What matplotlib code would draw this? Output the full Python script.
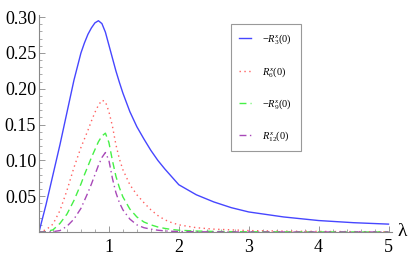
import matplotlib
matplotlib.use("Agg")
import matplotlib.pyplot as plt
from matplotlib.ticker import MultipleLocator, FixedLocator

lam = [0, 0.1, 0.2, 0.3, 0.4, 0.5, 0.6, 0.65, 0.7, 0.75, 0.8, 0.85, 0.9, 0.95,
       1.0, 1.05, 1.1, 1.15, 1.2, 1.3, 1.4, 1.5, 1.6, 1.7, 1.8, 1.9, 2.0,
       2.25, 2.5, 2.75, 3.0, 3.5, 4.0, 4.5, 5.0]

r3 = [0, 0.038, 0.080, 0.122, 0.167, 0.212, 0.250, 0.264, 0.276, 0.285, 0.292, 0.295, 0.291, 0.279,
      0.261, 0.243, 0.225, 0.209, 0.194, 0.168, 0.147, 0.130, 0.114, 0.100, 0.088, 0.077, 0.066,
      0.052, 0.042, 0.034, 0.028, 0.021, 0.016, 0.013, 0.011]

r6 = [0, 0.003, 0.011, 0.030, 0.058, 0.090, 0.118, 0.130, 0.142, 0.155, 0.167, 0.177, 0.184, 0.182,
      0.168, 0.148, 0.122, 0.102, 0.087, 0.066, 0.052, 0.041, 0.031, 0.023, 0.017, 0.013, 0.010,
      0.006, 0.004, 0.003, 0.002, 0.0012, 0.0008, 0.0005, 0.0003]

r9 = [0, 0.0005, 0.003, 0.012, 0.025, 0.044, 0.067, 0.080, 0.092, 0.104, 0.115, 0.126, 0.134, 0.138,
      0.125, 0.100, 0.078, 0.062, 0.049, 0.032, 0.021, 0.014, 0.010, 0.007, 0.005, 0.0035, 0.0025,
      0.0013, 0.0008, 0.0005, 0.0003, 0.0002, 0.0001, 0.0001, 0.0]

r12 = [0, 0.0, 0.0005, 0.002, 0.008, 0.018, 0.033, 0.044, 0.055, 0.067, 0.080, 0.093, 0.104, 0.111,
       0.100, 0.075, 0.055, 0.041, 0.031, 0.018, 0.010, 0.006, 0.004, 0.0025, 0.0015, 0.001, 0.0007,
       0.0003, 0.0002, 0.0001, 0.0, 0.0, 0.0, 0.0, 0.0]

labels = [r"$-R_3^x(0)$", r"$R_6^x(0)$", r"$-R_9^x(0)$", r"$R_{12}^x(0)$"]
xticks = [1, 2, 3, 4, 5]
yticks = [0.05, 0.10, 0.15, 0.20, 0.25, 0.30]

SERIF = "Liberation Serif"
plt.rcParams["font.family"] = SERIF
plt.rcParams["mathtext.fontset"] = "custom"
plt.rcParams["mathtext.rm"] = SERIF
plt.rcParams["mathtext.it"] = SERIF + ":italic"

fig = plt.figure(figsize=(4.15, 2.59), dpi=100)
ax = fig.add_axes([39 / 415, 27 / 259, 353 / 415, 217 / 259])

ax.plot(lam, r3, color="#4646ff", lw=1.0, label=labels[0])
ax.plot(lam, r6, color="#ff6060", lw=1.0, ls=(0, (1, 2.5)), label=labels[1])
ax.plot(lam, r9, color="#46f046", lw=1.0, ls=(0, (5, 3)), label=labels[2])
ax.plot(lam, r12, color="#a848b8", lw=1.0, ls=(0, (5, 2.5, 1, 2.5)), label=labels[3])

ax.set_xlim(0, 5.05)
ax.set_ylim(0, 0.303)
for s in ["top", "right"]:
    ax.spines[s].set_visible(False)
for s in ["left", "bottom"]:
    ax.spines[s].set_color("#888888")
    ax.spines[s].set_linewidth(0.8)

ax.xaxis.set_major_locator(FixedLocator(xticks))
ax.yaxis.set_major_locator(FixedLocator(yticks))
ax.xaxis.set_minor_locator(MultipleLocator(0.2))
ax.yaxis.set_minor_locator(MultipleLocator(0.01))
ax.set_xticklabels([str(t) for t in xticks], fontfamily=SERIF, fontsize=13)
ax.set_yticklabels(["%.2f" % t for t in yticks], fontfamily=SERIF, fontsize=13)
ax.tick_params(which="major", direction="in", length=4, width=0.6, color="#888888", pad=2)
ax.tick_params(which="minor", direction="in", length=2, width=0.5, color="#888888")
ax.tick_params(axis="x", pad=5)

ax.text(5.13, 0.0, "λ", fontsize=14, va="center", ha="left", fontfamily=SERIF)

leg = ax.legend(loc="upper left", bbox_to_anchor=(0.544, 0.958), fontsize=7.5,
                handlelength=1.1, handletextpad=1.1, labelspacing=1.75,
                borderpad=0.8, borderaxespad=0, fancybox=False, framealpha=1,
                edgecolor="#999999")
leg.get_frame().set_linewidth(0.8)

fig.savefig("out.png", dpi=100)
